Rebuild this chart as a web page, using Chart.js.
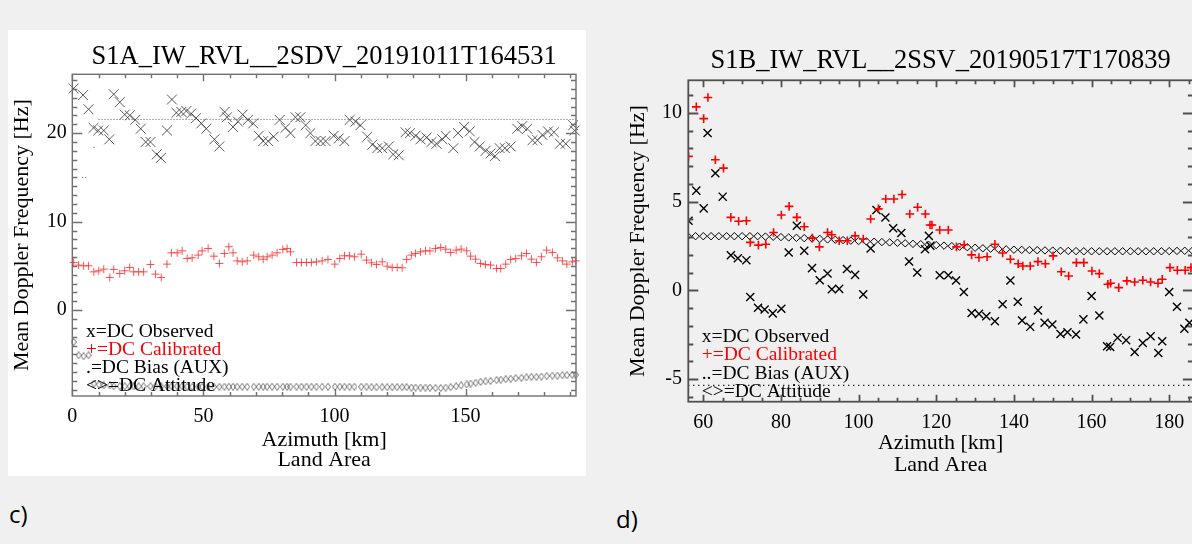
<!DOCTYPE html>
<html>
<head>
<meta charset="utf-8">
<script src="https://cdn.jsdelivr.net/npm/chart.js@4.4.1/dist/chart.umd.min.js"></script>
<style>
  html, body { margin: 0; padding: 0; background: #f0f0f0; width: 1192px; height: 544px; overflow: hidden; }
  #panelC { position: absolute; left: 8px; top: 30px; width: 578px; height: 446px; background: #fff; }
  #panelD { position: absolute; left: 596px; top: 30px; width: 604px; height: 450px; }
  .tag { position: absolute; font-family: 'Open Sans', sans-serif; font-size: 24px; line-height: 1; color: #000; }
</style>
</head>
<body>
<div id="panelC"><canvas id="chartC" width="578" height="446"></canvas></div>
<div id="panelD"><canvas id="chartD" width="604" height="450"></canvas></div>
<div class="tag" style="left:9px; top:502px;">c)</div>
<div class="tag" style="left:616px; top:507px;">d)</div>
<script>
// === panel c) : S1A ===
const titleC = 'S1A_IW_RVL__2SDV_20191011T164531';
// x = DC Observed
const obsKmC = [0.5, 4.1, 6.2, 8.1, 9.9, 12.0, 14.1, 15.8, 18.1, 20.0,
  21.9, 24.0, 26.1, 28.0, 29.8, 32.2, 33.8, 36.1, 38.0, 39.7,
  41.6, 43.5, 45.3, 47.2, 49.2, 51.1, 54.2, 56.1, 58.1, 59.0,
  61.3, 63.2, 65.0, 67.0, 69.0, 71.1, 72.8, 74.7, 76.8, 79.1,
  81.3, 83.2, 85.1, 87.0, 89.0, 90.8, 92.7, 94.7, 96.6, 99.7,
  101.6, 103.8, 105.8, 108.0, 109.9, 112.5, 114.4, 116.3, 118.2, 120.7,
  122.4, 124.5, 127.1, 128.8, 130.9, 132.8, 135.1, 137.0, 138.9, 141.1,
  142.4, 145.3, 147.1, 149.4, 151.6, 153.4, 155.4, 157.6, 159.5, 161.2,
  163.0, 165.0, 167.2, 169.7, 171.6, 173.5, 175.5, 177.4, 179.3, 181.4,
  183.7, 186.0, 188.2, 191.0, 191.6];
const obsHzC = [25.05, 24.3, 22.7, 20.6, 20.3, 20.3, 19.3, 24.4, 23.5, 22.1,
  22.0, 21.5, 20.5, 19.0, 19.0, 17.6, 17.2, 20.3, 23.8, 22.3,
  22.4, 22.5, 22.2, 21.7, 21.1, 20.5, 19.3, 18.5, 22.4, 21.8,
  20.7, 21.3, 22.1, 21.5, 21.1, 19.7, 19.1, 19.1, 19.6, 21.5,
  20.6, 20.0, 21.8, 21.8, 20.9, 20.0, 19.1, 19.1, 19.1, 19.7,
  19.4, 19.1, 21.5, 21.3, 20.9, 19.6, 18.7, 18.3, 18.3, 18.5,
  17.6, 17.5, 20.1, 20.0, 19.7, 19.3, 19.5, 19.0, 18.8, 19.3,
  19.7, 18.3, 20.0, 20.7, 20.2, 19.0, 18.5, 18.0, 17.7, 17.4,
  18.3, 18.3, 18.5, 20.5, 20.8, 20.5, 19.2, 19.2, 19.8, 20.2,
  20.1, 18.8, 18.8, 20.9, 20.3];
// + = DC Calibrated (same azimuth samples are used for the attitude)
const calKmC = [0.5, 2.4, 4.3, 6.2, 8.2, 10.1, 12.0, 14.3, 15.8, 18.1,
  20.0, 21.9, 23.4, 25.3, 27.2, 29.8, 31.7, 33.9, 36.1,
  37.8, 40.0, 41.9, 43.8, 45.7, 48.0, 49.5, 51.8, 54.0, 56.1,
  58.0, 59.7, 61.3, 62.9, 64.8, 66.7, 69.2,
  71.1, 72.8, 74.3, 76.2, 78.1, 80.3, 81.9, 83.2, 85.5, 87.4,
  89.3, 91.2, 93.1, 95.3, 97.5, 100.1,
  102.0, 103.8, 105.7, 107.6, 110.2, 112.2, 114.1, 116.0, 118.2, 120.1,
  122.0, 123.9, 125.8, 127.5, 129.3, 130.9,
  132.8, 134.7, 136.4, 138.5, 140.5, 142.4, 144.3, 146.4, 148.3, 150.4,
  151.9, 153.8, 155.7, 157.6, 159.5, 161.8,
  163.4, 165.3, 167.2, 169.1, 171.3, 173.2, 175.1, 177.0, 178.9, 180.9,
  183.1, 185.0, 186.9, 188.6, 190.7, 192.0];
const calHzC = [5.39, 5.09, 5.01, 5.01, 4.33, 4.45, 4.63, 3.69, 4.60, 4.14,
  4.45, 4.82, 4.33, 4.33, 4.33, 5.16, 4.07, 3.69, 5.2,
  6.48, 6.48, 6.70, 5.84, 5.91, 6.22, 6.70, 6.97, 6.10, 5.27,
  6.40, 7.16, 6.48, 5.57, 5.46, 5.57, 6.22,
  6.03, 5.76, 6.03, 6.22, 6.48, 6.86, 6.97, 6.59, 5.39, 5.39,
  5.39, 5.39, 5.46, 5.57, 5.73, 5.2,
  5.84, 6.14, 6.14, 6.03, 6.33, 5.65, 5.35, 5.16, 5.46, 4.97,
  4.82, 4.82, 4.78, 5.73, 6.22, 6.40,
  6.59, 6.70, 6.70, 6.97, 7.08, 6.89, 6.52, 6.78, 6.89, 6.70,
  6.10, 5.76, 5.27, 5.16, 5.09, 4.71,
  4.71, 5.2, 5.73, 5.84, 6.14, 6.40, 5.76, 5.39, 6.03, 6.78,
  6.52, 5.91, 5.57, 5.2, 5.46, 5.57];
// <> = DC Attitude, at calKmC
const attHzC = [-3.6, -5.1, -5.2, -5.1, -8.3, -8.4, -8.5, -8.5, -8.6, -8.6,
  -8.6, -8.6, -8.6, -8.6, -8.6, -8.6, -8.6, -8.6, -8.6,
  -8.6, -8.6, -8.6, -8.65, -8.65, -8.65, -8.65, -8.65, -8.65, -8.65,
  -8.65, -8.65, -8.65, -8.65, -8.65, -8.65, -8.65,
  -8.65, -8.65, -8.65, -8.65, -8.65, -8.65, -8.65, -8.65, -8.65, -8.65,
  -8.65, -8.65, -8.65, -8.65, -8.65, -8.65,
  -8.65, -8.65, -8.65, -8.65, -8.65, -8.65, -8.7, -8.7, -8.7, -8.7,
  -8.7, -8.7, -8.7, -8.7, -8.75, -8.75,
  -8.75, -8.75, -8.75, -8.8, -8.8, -8.75, -8.7, -8.6, -8.5, -8.4,
  -8.3, -8.2, -8.1, -8.05, -8.0, -7.9,
  -7.85, -7.8, -7.75, -7.7, -7.65, -7.6, -7.55, -7.55, -7.5, -7.45,
  -7.4, -7.4, -7.35, -7.35, -7.3, -7.3];
// . = DC Bias (AUX)  (null breaks the dotted trace)
const biasKmC = [3.8, 5.8, 7.0, 8.1, 8.5, 9.0, 10.0, 192.1];
const biasHzC = [15.0, 15.0, null, 18.4, 18.4, null, 21.55, 21.55];

// === panel d) : S1B ===
const titleD = 'S1B_IW_RVL__2SSV_20190517T170839';
const obsKmD = [56.2, 58.2, 60.1, 61.1, 63.1, 65.0, 67.1, 68.9, 71.1, 72.1,
  74.1, 75.8, 77.9, 80.1, 82.0, 84.1, 86.0, 88.0, 90.0, 92.0,
  93.1, 95.0, 97.0, 99.1, 101.2, 103.1, 104.6, 106.9, 108.9, 111.0,
  113.0, 115.1, 117.1, 118.1, 118.5, 120.9, 123.1, 125.1, 127.1, 129.1,
  131.0, 132.9, 135.1, 137.1, 139.1, 141.0, 142.1, 144.2, 146.2, 147.9,
  149.9, 152.0, 153.8, 156.0, 157.9, 160.0, 162.0, 164.0, 164.8, 166.7,
  168.9, 171.1, 173.2, 175.2, 177.2, 178.2, 180.0, 182.0, 183.9, 185.2];
const obsHzD = [3.92, 5.62, 4.62, 8.87, 6.6, 5.28, 1.98, 1.81, 1.7, -0.38,
  -0.98, -1.08, -1.3, -1.04, 2.13, 3.64, 2.23, 1.25, 0.57, 0.95,
  0.06, 0.08, 1.2, 0.87, -0.23, 2.36, 4.53, 4.1, 3.5, 3.23,
  1.62, 1.0, 2.32, 3.07, 2.51, 0.85, 0.85, 0.55, -0.1, -1.28,
  -1.33, -1.46, -1.74, -0.79, 0.55, -0.64, -1.7, -2.06, -1.13, -1.83,
  -1.93, -2.46, -2.36, -2.49, -1.64, -0.32, -1.42, -3.15, -3.19, -2.68,
  -2.81, -3.48, -2.97, -2.59, -3.53, -2.87, -0.1, -0.93, -2.17, -1.83];
const calKmD = [56.2, 58.2, 60.1, 61.2, 63.1, 65.2, 67.1, 69.1, 71.1, 72.1,
  74.2, 76.1, 78.1, 80.1, 82.1, 84.1, 86.0, 88.1, 89.9, 92.0,
  93.1, 95.0, 97.1, 99.1, 101.2, 103.1, 105.1, 107.0, 109.1, 111.2,
  113.2, 115.2, 117.2, 118.4, 118.9, 120.9, 123.1, 125.2, 127.2, 129.1,
  131.0, 133.1, 135.1, 137.1, 139.1, 141.1, 142.3, 144.2, 146.2, 148.1,
  150.1, 152.2, 154.1, 156.1, 158.0, 160.1, 162.0, 164.2, 164.9, 167.0,
  169.1, 171.1, 173.2, 175.2, 177.1, 178.2, 180.2, 182.1, 184.1, 185.6];
const calHzD = [7.55, 10.34, 9.68, 10.87, 7.36, 6.89, 4.11, 3.89, 3.92, 2.70,
  2.55, 2.6, 3.26, 4.25, 4.73, 4.11, 3.58, 2.94, 2.45, 3.26,
  3.13, 2.79, 2.79, 3.07, 2.89, 4.02, 4.59, 5.15, 5.15, 5.4,
  4.3, 4.68, 4.3, 3.68, 3.68, 3.4, 3.4, 2.45, 2.57, 2.0,
  1.85, 1.89, 2.6, 2.1, 1.75, 1.5, 1.37, 1.37, 1.62, 1.5,
  1.94, 1.05, 0.81, 1.56, 1.56, 1.09, 0.94, 0.34, 0.4, 0.15,
  0.53, 0.47, 0.57, 0.47, 0.4, 0.62, 1.28, 1.13, 1.13, 1.28];
const attKmD = [56, 58, 60, 62, 64, 66, 68, 70, 72, 74,
  76, 78, 80, 82, 84, 86, 88, 90, 92, 94,
  96, 98, 100, 102, 104, 106, 108, 110, 112, 114,
  116, 118, 120, 122, 124, 126, 128, 130, 132, 134,
  136, 138, 140, 142, 144, 146, 148, 150, 152, 154,
  156, 158, 160, 162, 164, 166, 168, 170, 172, 174,
  176, 178, 180, 182, 184, 186];
const attHzD = [3.05, 3.05, 3.05, 3.05, 3.05, 3.05, 3.05, 3.05, 3.05, 3.05,
  3.03, 3.02, 3.0, 2.98, 2.96, 2.94, 2.92, 2.9, 2.87, 2.85,
  2.83, 2.8, 2.78, 2.76, 2.74, 2.72, 2.7, 2.68, 2.65, 2.62,
  2.6, 2.57, 2.55, 2.52, 2.49, 2.46, 2.43, 2.4, 2.37, 2.35,
  2.33, 2.31, 2.29, 2.28, 2.27, 2.26, 2.25, 2.24, 2.23, 2.22,
  2.21, 2.2, 2.2, 2.2, 2.2, 2.2, 2.2, 2.2, 2.2, 2.2,
  2.2, 2.2, 2.21, 2.22, 2.23, 2.24];
const biasKmD = [56.1, 186.2];
const biasHzD = [-5.36, -5.36];

const legendC = ['x=DC Observed', '+=DC Calibrated', '.=DC Bias (AUX)', '<>=DC Attitude'];
const legendD = ['x=DC Observed', '+=DC Calibrated', '..=DC Bias (AUX)', '<>=DC Attitude'];
const legendColors = ['#000', '#ff0000', '#000', '#000'];

Chart.defaults.font.family = '"Liberation Serif", "Times New Roman", serif';
Chart.defaults.color = '#000';

const xy = (xs, ys) => xs.map((x, i) => ({ x: x, y: ys[i] }));

// narrow diamond marker (IDL psym 4 on the small plot)
function narrowDiamond(w, h, color) {
    const c = document.createElement('canvas');
    c.width = w; c.height = h;
    const g = c.getContext('2d');
    g.strokeStyle = color;
    g.lineWidth = 1;
    g.beginPath();
    g.moveTo(w / 2, 0.5); g.lineTo(w - 0.5, h / 2); g.lineTo(w / 2, h - 0.5); g.lineTo(0.5, h / 2);
    g.closePath();
    g.stroke();
    return c;
}

// IDL style box with inward major/minor ticks on all four sides + in-plot legend
const idlFrame = {
    id: 'idlFrame',
    afterDatasetsDraw(chart, args, o) {
        const { ctx, chartArea: a, scales: { x, y } } = chart;
        ctx.save();
        ctx.strokeStyle = o.color;
        ctx.lineWidth = o.lineWidth;
        ctx.strokeRect(a.left, a.top, a.right - a.left, a.bottom - a.top);
        ctx.beginPath();
        const isMajor = (v, step) => Math.abs(v / step - Math.round(v / step)) < 1e-6;
        for (let k = Math.ceil(x.min / o.xMinor); k * o.xMinor <= x.max; k++) {
            const v = k * o.xMinor;
            const px = Math.round(x.getPixelForValue(v)) + 0.5;
            const len = isMajor(v, o.xMajor) ? o.xLen[0] : o.xLen[1];
            ctx.moveTo(px, a.bottom); ctx.lineTo(px, a.bottom - len);
            ctx.moveTo(px, a.top); ctx.lineTo(px, a.top + len);
        }
        for (let k = Math.ceil(y.min / o.yMinor); k * o.yMinor <= y.max; k++) {
            const v = k * o.yMinor;
            const py = Math.round(y.getPixelForValue(v)) + 0.5;
            const len = isMajor(v, o.yMajor) ? o.yLen[0] : o.yLen[1];
            ctx.moveTo(a.left, py); ctx.lineTo(a.left + len, py);
            ctx.moveTo(a.right, py); ctx.lineTo(a.right - len, py);
        }
        ctx.stroke();
        ctx.font = o.legendFont;
        ctx.textAlign = 'left';
        ctx.textBaseline = 'alphabetic';
        o.legend.forEach((t, i) => {
            ctx.fillStyle = legendColors[i];
            ctx.fillText(t, a.left + o.legendDx, a.top + o.legendDy + i * o.legendStep);
        });
        ctx.restore();
    }
};

function buildChart(canvas, p) {
    return new Chart(canvas, {
        type: 'scatter',
        data: { datasets: p.datasets },
        options: {
            responsive: false,
            animation: false,
            events: [],
            layout: { padding: p.padding },
            plugins: {
                legend: { display: false },
                tooltip: { enabled: false },
                title: {
                    display: true, text: p.title, fullSize: false, color: '#000',
                    font: { size: 26.5, weight: 'normal', lineHeight: 1.2 },
                    padding: p.titlePad
                },
                idlFrame: p.frame
            },
            scales: {
                x: {
                    type: 'linear', min: p.xMin, max: p.xMax,
                    grid: { display: false, drawTicks: false },
                    border: { display: false },
                    ticks: { stepSize: p.xStep, includeBounds: false, autoSkip: false, maxRotation: 0,
                             padding: p.xTickPad, color: '#000', font: { size: 20 } },
                    title: { display: true, text: ['Azimuth [km]', 'Land Area'], color: '#000',
                             font: { size: 22, lineHeight: p.xTitleLH }, padding: { top: 0, bottom: p.xTitlePadB } },
                    afterFit: s => { s.height = p.xAxisH; }
                },
                y: {
                    type: 'linear', min: p.yMin, max: p.yMax,
                    grid: { display: false, drawTicks: false },
                    border: { display: false },
                    ticks: { stepSize: p.yStep, includeBounds: false, autoSkip: false,
                             padding: p.yTickPad, color: '#000', font: { size: 20 } },
                    title: { display: true, text: 'Mean Doppler Frequency [Hz]', color: '#000',
                             font: { size: 22, lineHeight: 1.2 }, padding: { top: p.yTitlePad, bottom: 0 } },
                    afterFit: s => { s.width = p.yAxisW; }
                }
            }
        },
        plugins: [idlFrame]
    });
}

// ---- c) ----
buildChart(document.getElementById('chartC'), {
    title: titleC,
    padding: { left: 0, right: 10, top: 0, bottom: 0 },
    titlePad: { top: 10.8, bottom: 1.7 },
    xMin: 0, xMax: 192.1, xStep: 50, xTickPad: 8.4, xTitleLH: 0.93, xTitlePadB: 5.5, xAxisH: 80,
    yMin: -9.7, yMax: 26.65, yStep: 10, yTickPad: 5.5, yTitlePad: 1.3, yAxisW: 64.3,
    frame: { color: '#707070', lineWidth: 1.4, xMajor: 50, xMinor: 10, xLen: [7, 4], yMajor: 10, yMinor: 1, yLen: [10, 5],
             legend: legendC, legendFont: '19.5px "Liberation Serif", serif', legendDx: 13.7, legendDy: 262.4, legendStep: 18 },
    datasets: [
        { label: 'DC Calibrated', data: xy(calKmC, calHzC), pointStyle: 'cross', pointRadius: 4,
          pointBorderColor: 'rgba(255,40,40,0.8)', pointBorderWidth: 1, clip: false },
        { label: 'DC Observed', data: xy(obsKmC, obsHzC), pointStyle: 'crossRot', pointRadius: 7,
          pointBorderColor: 'rgba(50,50,50,0.8)', pointBorderWidth: 1, clip: false },
        { label: 'DC Bias (AUX)', data: xy(biasKmC, biasHzC), showLine: true, spanGaps: false, pointRadius: 0,
          borderColor: '#555', borderWidth: 1, borderDash: [1, 2] },
        { label: 'DC Attitude', data: xy(calKmC, attHzC), pointStyle: narrowDiamond(6, 8, 'rgba(90,90,90,0.85)'),
          pointRadius: 4, clip: false }
    ]
});

// ---- d) ----
buildChart(document.getElementById('chartD'), {
    title: titleD,
    padding: { left: 0, right: 6.5, top: 0, bottom: 0 },
    titlePad: { top: 14.7, bottom: 3.8 },
    xMin: 56.14, xMax: 186.1, xStep: 20, xTickPad: 9.1, xTitleLH: 1.0, xTitlePadB: 3.5, xAxisH: 78.3,
    yMin: -6.28, yMax: 11.84, yStep: 5, yTickPad: 6.3, yTitlePad: 29.3, yAxisW: 92.3,
    frame: { color: '#505050', lineWidth: 1.8, xMajor: 20, xMinor: 5, xLen: [7, 4], yMajor: 5, yMinor: 1, yLen: [10, 5],
             legend: legendD, legendFont: '19.5px "Liberation Serif", serif', legendDx: 13.4, legendDy: 261.7, legendStep: 18.3 },
    datasets: [
        { label: 'DC Calibrated', data: xy(calKmD, calHzD), pointStyle: 'cross', pointRadius: 4.3,
          pointBorderColor: '#ff0000', pointBorderWidth: 1.6, clip: 0 },
        { label: 'DC Observed', data: xy(obsKmD, obsHzD), pointStyle: 'crossRot', pointRadius: 5.7,
          pointBorderColor: '#000', pointBorderWidth: 1.4, clip: 0 },
        { label: 'DC Bias (AUX)', data: xy(biasKmD, biasHzD), showLine: true, pointRadius: 0,
          borderColor: '#000', borderWidth: 1.2, borderDash: [1.2, 3.8] },
        { label: 'DC Attitude', data: xy(attKmD, attHzD), pointStyle: 'rectRot', pointRadius: 3.7,
          pointBorderColor: '#000', pointBackgroundColor: 'rgba(0,0,0,0)', pointBorderWidth: 1, clip: 0 }
    ]
});
</script>
</body>
</html>
